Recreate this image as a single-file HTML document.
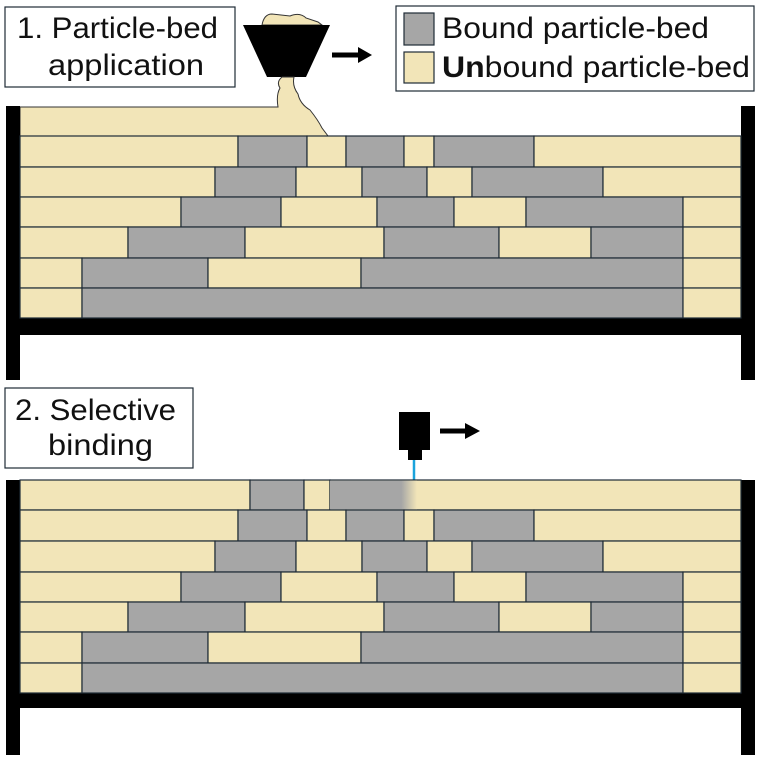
<!DOCTYPE html>
<html><head><meta charset="utf-8"><style>
html,body{margin:0;padding:0;background:#fff;}
svg{display:block;}
text{font-family:"Liberation Sans",sans-serif;font-size:30px;fill:#111;}
</style></head><body>
<svg width="758" height="759" viewBox="0 0 758 759" xmlns="http://www.w3.org/2000/svg">
<defs>
<linearGradient id="fade" x1="0" x2="1" y1="0" y2="0">
<stop offset="0" stop-color="#a6a6a6"/><stop offset="0.82" stop-color="#a6a6a6"/><stop offset="1" stop-color="#f2e5b8"/>
</linearGradient>
</defs>
<g stroke="#1e2b36" stroke-width="1.2">
<rect x="5" y="7" width="230" height="80" fill="#fff"/>
<rect x="396" y="6" width="358" height="85" fill="#fff"/>
<rect x="404" y="13" width="30" height="32" fill="#a6a6a6"/>
<rect x="404" y="52" width="30" height="31" fill="#f2e5b8"/>
</g>
<text x="17" y="38" textLength="201" lengthAdjust="spacingAndGlyphs">1. Particle-bed</text>
<text x="48" y="75" textLength="156" lengthAdjust="spacingAndGlyphs">application</text>
<text x="442" y="38" textLength="267" lengthAdjust="spacingAndGlyphs">Bound particle-bed</text>
<text x="442" y="77" textLength="308" lengthAdjust="spacingAndGlyphs"><tspan font-weight="bold">Un</tspan>bound particle-bed</text>
<path d="M262,25 Q264,14 272,14 L290,16 Q300,12 306,18 L318,22 L322,25 Z" fill="#f2e5b8" stroke="#333" stroke-width="1"/>
<polygon points="243,25 330,25 306,77 267,77" fill="#000"/>
<path d="M20,107 L278,107 Q276,95 280,88 Q276,82 282,77 L294,77 Q292,86 298,94 Q300,104 310,110 Q318,120 322,128 L328,136 L20,136 Z" fill="#f2e5b8" stroke="#333" stroke-width="1"/>
<line x1="332" y1="55" x2="360" y2="55" stroke="#000" stroke-width="5"/>
<polygon points="358,47 372,55 358,63" fill="#000"/>
<rect x="6" y="106" width="14" height="274" fill="#000"/>
<rect x="741" y="106" width="14" height="274" fill="#000"/>
<rect x="6" y="318" width="749" height="17" fill="#000"/>
<g stroke="#1e2b36" stroke-width="1.2">
<rect x="20" y="136" width="218" height="31" fill="#f2e5b8"/><rect x="238" y="136" width="69" height="31" fill="#a6a6a6"/><rect x="307" y="136" width="39" height="31" fill="#f2e5b8"/><rect x="346" y="136" width="58" height="31" fill="#a6a6a6"/><rect x="404" y="136" width="30" height="31" fill="#f2e5b8"/><rect x="434" y="136" width="100" height="31" fill="#a6a6a6"/><rect x="534" y="136" width="207" height="31" fill="#f2e5b8"/>
<rect x="20" y="167" width="195" height="30" fill="#f2e5b8"/><rect x="215" y="167" width="81" height="30" fill="#a6a6a6"/><rect x="296" y="167" width="66" height="30" fill="#f2e5b8"/><rect x="362" y="167" width="65" height="30" fill="#a6a6a6"/><rect x="427" y="167" width="45" height="30" fill="#f2e5b8"/><rect x="472" y="167" width="131" height="30" fill="#a6a6a6"/><rect x="603" y="167" width="138" height="30" fill="#f2e5b8"/>
<rect x="20" y="197" width="161" height="30" fill="#f2e5b8"/><rect x="181" y="197" width="100" height="30" fill="#a6a6a6"/><rect x="281" y="197" width="96" height="30" fill="#f2e5b8"/><rect x="377" y="197" width="77" height="30" fill="#a6a6a6"/><rect x="454" y="197" width="72" height="30" fill="#f2e5b8"/><rect x="526" y="197" width="157" height="30" fill="#a6a6a6"/><rect x="683" y="197" width="58" height="30" fill="#f2e5b8"/>
<rect x="20" y="227" width="108" height="31" fill="#f2e5b8"/><rect x="128" y="227" width="117" height="31" fill="#a6a6a6"/><rect x="245" y="227" width="139" height="31" fill="#f2e5b8"/><rect x="384" y="227" width="115" height="31" fill="#a6a6a6"/><rect x="499" y="227" width="92" height="31" fill="#f2e5b8"/><rect x="591" y="227" width="92" height="31" fill="#a6a6a6"/><rect x="683" y="227" width="58" height="31" fill="#f2e5b8"/>
<rect x="20" y="258" width="62" height="30" fill="#f2e5b8"/><rect x="82" y="258" width="126" height="30" fill="#a6a6a6"/><rect x="208" y="258" width="153" height="30" fill="#f2e5b8"/><rect x="361" y="258" width="322" height="30" fill="#a6a6a6"/><rect x="683" y="258" width="58" height="30" fill="#f2e5b8"/>
<rect x="20" y="288" width="62" height="30" fill="#f2e5b8"/><rect x="82" y="288" width="601" height="30" fill="#a6a6a6"/><rect x="683" y="288" width="58" height="30" fill="#f2e5b8"/>
<rect x="5" y="388" width="188" height="80" fill="#fff"/>
</g>
<text x="15" y="420" textLength="161" lengthAdjust="spacingAndGlyphs">2. Selective</text>
<text x="48" y="455" textLength="105" lengthAdjust="spacingAndGlyphs">binding</text>
<rect x="399" y="412" width="31" height="38" fill="#000"/>
<rect x="408" y="449" width="14" height="11" fill="#000"/>
<line x1="414" y1="460" x2="414" y2="480" stroke="#1aa3dc" stroke-width="2.5"/>
<line x1="440" y1="431" x2="467" y2="431" stroke="#000" stroke-width="5"/>
<polygon points="465,423 480,431 465,439" fill="#000"/>
<rect x="6" y="480" width="14" height="275" fill="#000"/>
<rect x="741" y="480" width="14" height="275" fill="#000"/>
<rect x="6" y="693" width="749" height="15" fill="#000"/>
<g stroke="#1e2b36" stroke-width="1.2">
<rect x="20" y="480" width="230" height="30" fill="#f2e5b8"/><rect x="250" y="480" width="54" height="30" fill="#a6a6a6"/><rect x="304" y="480" width="26" height="30" fill="#f2e5b8"/><rect x="330" y="480" width="411" height="30" fill="#f2e5b8"/>
<rect x="330" y="480.6" width="87" height="28.8" fill="url(#fade)" stroke="none"/>
<rect x="20" y="510" width="218" height="31" fill="#f2e5b8"/><rect x="238" y="510" width="69" height="31" fill="#a6a6a6"/><rect x="307" y="510" width="39" height="31" fill="#f2e5b8"/><rect x="346" y="510" width="58" height="31" fill="#a6a6a6"/><rect x="404" y="510" width="30" height="31" fill="#f2e5b8"/><rect x="434" y="510" width="100" height="31" fill="#a6a6a6"/><rect x="534" y="510" width="207" height="31" fill="#f2e5b8"/>
<rect x="20" y="541" width="195" height="31" fill="#f2e5b8"/><rect x="215" y="541" width="81" height="31" fill="#a6a6a6"/><rect x="296" y="541" width="66" height="31" fill="#f2e5b8"/><rect x="362" y="541" width="65" height="31" fill="#a6a6a6"/><rect x="427" y="541" width="45" height="31" fill="#f2e5b8"/><rect x="472" y="541" width="131" height="31" fill="#a6a6a6"/><rect x="603" y="541" width="138" height="31" fill="#f2e5b8"/>
<rect x="20" y="572" width="161" height="30" fill="#f2e5b8"/><rect x="181" y="572" width="100" height="30" fill="#a6a6a6"/><rect x="281" y="572" width="96" height="30" fill="#f2e5b8"/><rect x="377" y="572" width="77" height="30" fill="#a6a6a6"/><rect x="454" y="572" width="72" height="30" fill="#f2e5b8"/><rect x="526" y="572" width="157" height="30" fill="#a6a6a6"/><rect x="683" y="572" width="58" height="30" fill="#f2e5b8"/>
<rect x="20" y="602" width="108" height="30" fill="#f2e5b8"/><rect x="128" y="602" width="117" height="30" fill="#a6a6a6"/><rect x="245" y="602" width="139" height="30" fill="#f2e5b8"/><rect x="384" y="602" width="115" height="30" fill="#a6a6a6"/><rect x="499" y="602" width="92" height="30" fill="#f2e5b8"/><rect x="591" y="602" width="92" height="30" fill="#a6a6a6"/><rect x="683" y="602" width="58" height="30" fill="#f2e5b8"/>
<rect x="20" y="632" width="62" height="31" fill="#f2e5b8"/><rect x="82" y="632" width="126" height="31" fill="#a6a6a6"/><rect x="208" y="632" width="153" height="31" fill="#f2e5b8"/><rect x="361" y="632" width="322" height="31" fill="#a6a6a6"/><rect x="683" y="632" width="58" height="31" fill="#f2e5b8"/>
<rect x="20" y="663" width="62" height="30" fill="#f2e5b8"/><rect x="82" y="663" width="601" height="30" fill="#a6a6a6"/><rect x="683" y="663" width="58" height="30" fill="#f2e5b8"/>
</g>
</svg>
</body></html>
